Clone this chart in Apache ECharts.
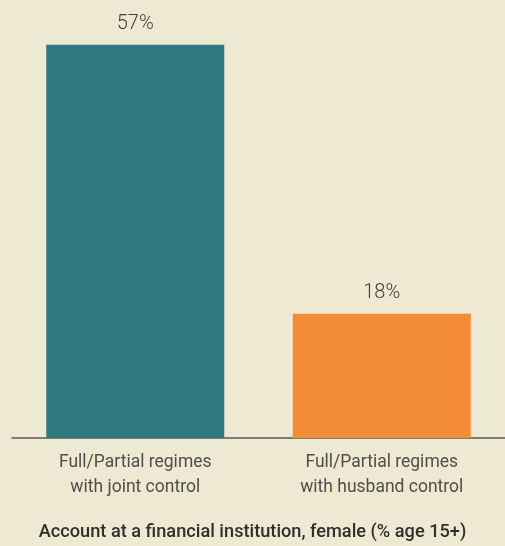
<!DOCTYPE html>
<html>
<head>
<meta charset="utf-8">
<script src="https://cdn.jsdelivr.net/npm/echarts@6/dist/echarts.min.js"></script>
<style>
  html, body { margin: 0; padding: 0; background: #EEE9D3; }
  #chart { width: 505px; height: 546px; }
</style>
</head>
<body>
<div id="chart"></div>
<script>
  var categories = ['Full/Partial regimes\nwith joint control', 'Full/Partial regimes\nwith husband control'];
  var values = [57, 18];
  var colors = ['#2E7880', '#F48B35'];

  var font = 'Roboto, sans-serif';
  var chart = echarts.init(document.getElementById('chart'));

  chart.setOption({
    backgroundColor: '#EEE9D3',
    animation: false,
    title: {
      text: 'Account at a financial institution, female (% age 15+)',
      left: 'center',
      bottom: 0,
      textStyle: { fontFamily: font, fontSize: 18.2, fontWeight: 500, color: '#2f2f2c' }
    },
    grid: { left: 12, right: 0, top: 24, bottom: 108 },
    xAxis: {
      type: 'category',
      data: categories,
      axisLine: { lineStyle: { color: '#5b5a50', width: 1.5 } },
      axisTick: { show: false },
      axisLabel: {
        fontFamily: font, fontSize: 17.5, color: '#4f4e49',
        lineHeight: 25, margin: 12
      }
    },
    yAxis: {
      type: 'value', min: 0, max: 60,
      show: false
    },
    series: [{
      type: 'bar',
      barWidth: 178,
      data: values.map(function (v, i) {
        return { value: v, itemStyle: { color: colors[i] } };
      }),
      label: {
        show: true, position: 'top', distance: 11,
        formatter: '{c}%',
        fontFamily: font, fontSize: 20, fontWeight: 300, color: '#3f3f3b'
      }
    }]
  });
</script>
</body>
</html>
